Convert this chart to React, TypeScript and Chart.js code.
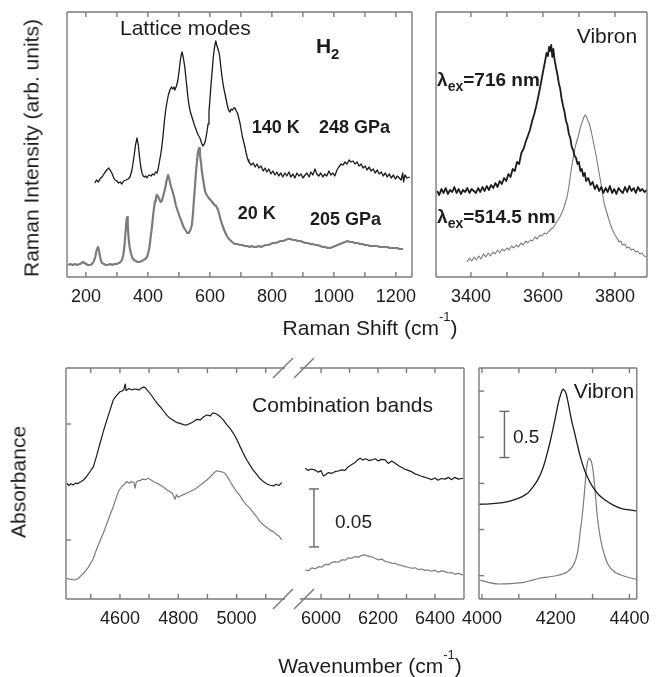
import React, { useEffect, useRef } from "react";
import { Chart, registerables } from "chart.js";

Chart.register(...registerables);

const W = 659;
const H = 677;
const AXIS_H = 40;
const FONT = '"Liberation Sans", Arial, Helvetica, sans-serif';
const INK = "#1c1c1c";
const GREY = "#7c7c7c";
const FRAME = "#7a7a7a";

type Pt = [number, number];

// ---------- Raman lattice modes: [shift cm^-1, intensity arb. units] ----------
const latticeHot140K: Pt[] = [
  [229, 94], [234, 97], [240, 95], [245, 98], [252, 100], [260, 104], [267, 107], [274, 109], [280, 106], [285, 103],
  [290, 99], [294, 97], [300, 96], [305, 94], [311, 95], [316, 93], [322, 96], [330, 97], [336, 98], [342, 100],
  [348, 106], [355, 120], [360, 132], [365, 139], [369, 132], [373, 120], [377, 110], [381, 104], [385, 101], [389, 100],
  [393, 101], [397, 99], [403, 102], [410, 101], [415, 103], [420, 102], [425, 105], [429, 104], [433, 108], [437, 115],
  [441, 122], [445, 130], [449, 142], [453, 155], [457, 166], [461, 174], [466, 182], [471, 187], [476, 190], [480, 188],
  [484, 190], [487, 187], [492, 191], [497, 197], [501, 207], [504, 215], [507, 221], [510, 225], [514, 220], [519, 210],
  [524, 195], [529, 180], [533, 171], [537, 165], [541, 161], [545, 157], [550, 152], [556, 147], [562, 142], [568, 139],
  [573, 134], [577, 131], [582, 133], [586, 137], [590, 144], [594, 153], [597, 165], [600, 177], [603, 190], [607, 205],
  [611, 220], [615, 230], [619, 236], [622, 232], [626, 228], [629, 225], [632, 220], [636, 208], [640, 198], [644, 190],
  [648, 184], [652, 178], [656, 172], [660, 167], [665, 165], [669, 168], [673, 167], [677, 169], [681, 169], [685, 166],
  [689, 164], [693, 159], [697, 154], [701, 147], [705, 140], [709, 135], [713, 130], [717, 124], [720, 120], [723, 117],
  [726, 115], [733, 112], [740, 114], [746, 110], [752, 113], [758, 109], [765, 111], [772, 106], [778, 109], [784, 105],
  [790, 108], [797, 103], [803, 106], [810, 102], [816, 105], [822, 101], [829, 104], [835, 100], [842, 104], [848, 101],
  [855, 105], [861, 100], [868, 103], [874, 99], [881, 104], [887, 101], [894, 103], [900, 99], [907, 102], [913, 104],
  [920, 100], [926, 105], [932, 102], [939, 108], [945, 103], [951, 101], [958, 104], [964, 100], [971, 103], [977, 101],
  [984, 106], [990, 102], [997, 104], [1003, 101], [1010, 107], [1016, 110], [1023, 113], [1029, 112], [1036, 115], [1042, 113],
  [1049, 117], [1055, 115], [1062, 116], [1068, 113], [1075, 115], [1081, 111], [1088, 113], [1094, 109], [1101, 111], [1107, 107],
  [1114, 110], [1120, 106], [1127, 108], [1133, 104], [1140, 107], [1146, 103], [1153, 105], [1159, 101], [1166, 104], [1172, 100],
  [1179, 103], [1185, 99], [1192, 102], [1198, 98], [1205, 101], [1211, 99], [1217, 97], [1222, 104], [1225, 95], [1229, 102],
  [1236, 99], [1245, 100],
];

const latticeCold20K: Pt[] = [
  [143, 12], [150, 13], [158, 12], [165, 13], [172, 12], [180, 13], [186, 14], [191, 15], [196, 14], [201, 13],
  [206, 12], [213, 12], [220, 13], [226, 16], [230, 20], [234, 26], [239, 30], [242, 27], [246, 20], [249, 16],
  [252, 14], [258, 13], [264, 12], [270, 12], [278, 13], [285, 12], [292, 13], [300, 13], [306, 14], [312, 15],
  [316, 17], [320, 21], [324, 30], [328, 45], [331, 57], [333, 60], [335, 52], [338, 38], [341, 30], [345, 24],
  [350, 19], [355, 17], [361, 16], [367, 15], [373, 15], [380, 16], [386, 17], [392, 18], [397, 20], [401, 24],
  [405, 30], [409, 40], [413, 50], [417, 62], [420, 70], [423, 76], [426, 80], [429, 82], [432, 81], [435, 79],
  [438, 77], [441, 75], [445, 76], [450, 82], [455, 88], [460, 96], [465, 102], [469, 98], [473, 92], [477, 88],
  [481, 84], [486, 78], [490, 72], [496, 66], [503, 60], [509, 55], [515, 50], [521, 47], [527, 44], [532, 44],
  [537, 47], [542, 52], [545, 62], [548, 75], [551, 87], [554, 100], [558, 115], [561, 124], [565, 129], [568, 122],
  [571, 115], [574, 106], [577, 100], [581, 92], [585, 85], [590, 82], [594, 80], [599, 78], [605, 76], [610, 74],
  [615, 72], [620, 71], [625, 68], [630, 63], [635, 57], [640, 52], [646, 47], [653, 42], [659, 39], [665, 37],
  [672, 35], [680, 33], [688, 33], [697, 32], [705, 32], [712, 31], [720, 31], [728, 30], [735, 31], [742, 30],
  [750, 30], [758, 31], [765, 30], [772, 31], [780, 32], [788, 32], [796, 33], [804, 34], [812, 34], [820, 35],
  [828, 36], [836, 36], [844, 37], [852, 38], [860, 38], [868, 37], [876, 37], [884, 36], [892, 36], [900, 35],
  [908, 34], [916, 34], [924, 33], [932, 33], [940, 32], [948, 32], [956, 31], [964, 30], [972, 30], [980, 29],
  [988, 29], [996, 30], [1004, 31], [1012, 32], [1020, 33], [1028, 34], [1036, 35], [1044, 36], [1052, 35], [1060, 35],
  [1068, 34], [1076, 34], [1084, 33], [1092, 33], [1100, 32], [1108, 32], [1116, 31], [1124, 31], [1132, 31], [1140, 31],
  [1148, 30], [1156, 30], [1164, 30], [1172, 30], [1180, 29], [1188, 29], [1196, 29], [1204, 29], [1212, 28], [1223, 28],
];

// ---------- Raman vibron ----------
const vibron716nm: Pt[] = [
  [3306, 86], [3312, 82], [3318, 88], [3324, 84], [3330, 89], [3336, 83], [3342, 87], [3348, 85], [3354, 90], [3360, 84],
  [3366, 88], [3372, 83], [3378, 87], [3384, 85], [3390, 89], [3396, 84], [3402, 88], [3408, 86], [3414, 84], [3420, 89],
  [3426, 85], [3432, 90], [3438, 86], [3444, 91], [3450, 87], [3456, 92], [3462, 89], [3468, 94], [3474, 90], [3480, 96],
  [3486, 93], [3492, 99], [3498, 96], [3504, 103], [3510, 100], [3516, 108], [3522, 106], [3528, 115], [3534, 113], [3540, 124],
  [3546, 128], [3552, 135], [3558, 141], [3564, 147], [3570, 156], [3576, 163], [3582, 172], [3588, 182], [3594, 193], [3600, 205],
  [3605, 214], [3610, 224], [3614, 221], [3617, 230], [3620, 226], [3623, 232], [3626, 220], [3629, 228], [3632, 218], [3636, 210],
  [3640, 203], [3644, 194], [3648, 188], [3652, 178], [3656, 171], [3660, 165], [3664, 156], [3668, 152], [3672, 143], [3676, 139],
  [3680, 130], [3684, 127], [3688, 121], [3692, 119], [3696, 113], [3700, 115], [3704, 106], [3708, 108], [3712, 101], [3716, 104],
  [3720, 96], [3726, 99], [3732, 92], [3738, 95], [3744, 88], [3750, 92], [3756, 86], [3762, 90], [3768, 84], [3774, 89],
  [3780, 85], [3786, 91], [3792, 84], [3798, 88], [3804, 83], [3810, 89], [3816, 86], [3822, 84], [3828, 90], [3834, 85],
  [3840, 91], [3846, 86], [3852, 89], [3858, 84], [3864, 90], [3870, 86], [3876, 88], [3882, 85], [3889, 87],
];

const vibron514nm: Pt[] = [
  [3389, 15], [3396, 19], [3402, 16], [3409, 20], [3415, 17], [3422, 21], [3428, 18], [3435, 23], [3441, 20], [3448, 24],
  [3454, 21], [3461, 25], [3467, 23], [3474, 27], [3480, 24], [3487, 28], [3493, 26], [3500, 29], [3506, 27], [3513, 31],
  [3519, 29], [3526, 32], [3532, 30], [3539, 34], [3545, 32], [3552, 36], [3558, 34], [3565, 37], [3571, 36], [3578, 40],
  [3584, 38], [3591, 42], [3597, 41], [3604, 44], [3610, 43], [3617, 46], [3623, 48], [3630, 50], [3636, 54], [3642, 57],
  [3647, 60], [3652, 64], [3657, 68], [3662, 74], [3667, 80], [3671, 88], [3675, 98], [3679, 108], [3683, 117], [3687, 125],
  [3691, 132], [3695, 137], [3699, 142], [3703, 148], [3707, 153], [3711, 157], [3715, 161], [3718, 162], [3721, 160], [3724, 157],
  [3728, 154], [3731, 150], [3735, 144], [3740, 135], [3745, 126], [3750, 117], [3754, 108], [3758, 100], [3763, 90], [3767, 80],
  [3771, 72], [3776, 66], [3781, 60], [3786, 54], [3791, 49], [3796, 45], [3800, 42], [3806, 39], [3811, 35], [3816, 36],
  [3821, 32], [3827, 33], [3833, 29], [3839, 30], [3845, 27], [3851, 28], [3857, 25], [3863, 26], [3869, 23], [3875, 24],
  [3881, 21], [3889, 20],
];

// ---------- IR combination bands: [wavenumber, absorbance] ----------
const combUpperLow: Pt[] = [
  [4418, 0.1489], [4425, 0.147], [4432, 0.1485], [4440, 0.1474], [4448, 0.149], [4456, 0.1486], [4464, 0.15], [4475, 0.1517],
  [4485, 0.1545], [4495, 0.158], [4509, 0.1632], [4520, 0.1725], [4532, 0.1836], [4543, 0.1935], [4555, 0.2034], [4566, 0.212],
  [4577, 0.2207], [4588, 0.2245], [4600, 0.2278], [4608, 0.2285], [4614, 0.23], [4618, 0.2345], [4621, 0.229], [4630, 0.2305],
  [4640, 0.2295], [4650, 0.2302], [4658, 0.2299], [4666, 0.2295], [4674, 0.231], [4680, 0.2318], [4686, 0.2316], [4692, 0.2296],
  [4703, 0.2265], [4715, 0.2222], [4727, 0.218], [4738, 0.2149], [4750, 0.211], [4761, 0.2075], [4772, 0.2049], [4784, 0.203],
  [4795, 0.2012], [4806, 0.2006], [4818, 0.1995], [4829, 0.1991], [4840, 0.2005], [4852, 0.202], [4864, 0.204], [4875, 0.2035],
  [4887, 0.2062], [4898, 0.2078], [4910, 0.207], [4918, 0.2095], [4926, 0.2092], [4935, 0.208], [4945, 0.206], [4955, 0.2034],
  [4966, 0.1995], [4978, 0.196], [4989, 0.192], [5000, 0.187], [5012, 0.1805], [5023, 0.1747], [5035, 0.169], [5046, 0.1645],
  [5057, 0.1603], [5069, 0.1565], [5080, 0.153], [5092, 0.1503], [5103, 0.1485], [5115, 0.1472], [5126, 0.1466], [5135, 0.148],
  [5145, 0.147], [5155, 0.1494],
];
const combLowerLow: Pt[] = [
  [4418, 0.067], [4426, 0.0662], [4434, 0.066], [4446, 0.0655], [4458, 0.067], [4466, 0.069], [4475, 0.0713], [4490, 0.076],
  [4500, 0.08], [4509, 0.0842], [4520, 0.092], [4532, 0.0995], [4543, 0.1058], [4555, 0.114], [4566, 0.1215], [4577, 0.1287],
  [4588, 0.137], [4597, 0.143], [4606, 0.1459], [4615, 0.148], [4623, 0.1503], [4632, 0.149], [4640, 0.1505], [4648, 0.1495],
  [4652, 0.1446], [4656, 0.15], [4662, 0.151], [4669, 0.1511], [4677, 0.1525], [4687, 0.152], [4697, 0.1532], [4708, 0.1515],
  [4718, 0.15], [4728, 0.1488], [4738, 0.1474], [4750, 0.1455], [4761, 0.1432], [4772, 0.1416], [4780, 0.14], [4789, 0.1351],
  [4794, 0.139], [4800, 0.1368], [4812, 0.1385], [4826, 0.14], [4840, 0.1418], [4852, 0.1431], [4864, 0.145], [4876, 0.1475],
  [4887, 0.1495], [4898, 0.1517], [4910, 0.1545], [4921, 0.1575], [4932, 0.1597], [4940, 0.1592], [4950, 0.1588], [4960, 0.1575],
  [4970, 0.154], [4980, 0.1495], [4990, 0.1455], [5000, 0.1416], [5012, 0.138], [5023, 0.1335], [5035, 0.13], [5046, 0.1273],
  [5057, 0.1235], [5069, 0.12], [5080, 0.116], [5092, 0.1129], [5103, 0.111], [5115, 0.1085], [5126, 0.1072], [5136, 0.105],
  [5145, 0.1035], [5155, 0.1],
];
const combUpperHigh: Pt[] = [
  [5944, 0.1618], [5955, 0.16], [5965, 0.1612], [5979, 0.1603], [5990, 0.1585], [6000, 0.1598], [6008, 0.1552], [6014, 0.156],
  [6025, 0.158], [6037, 0.1575], [6049, 0.1589], [6060, 0.1595], [6072, 0.1605], [6084, 0.16], [6096, 0.1632], [6108, 0.165],
  [6118, 0.1665], [6128, 0.169], [6137, 0.1704], [6147, 0.169], [6157, 0.17], [6168, 0.1685], [6178, 0.169], [6190, 0.17],
  [6201, 0.1682], [6212, 0.1695], [6225, 0.169], [6236, 0.166], [6248, 0.168], [6260, 0.1661], [6272, 0.164], [6284, 0.1625],
  [6295, 0.161], [6306, 0.16], [6318, 0.1589], [6330, 0.157], [6342, 0.156], [6353, 0.155], [6365, 0.154], [6376, 0.1532],
  [6388, 0.152], [6400, 0.1535], [6411, 0.1515], [6423, 0.153], [6435, 0.1525], [6447, 0.154], [6458, 0.152], [6470, 0.154],
  [6482, 0.1525], [6499, 0.1532],
];
const combLowerHigh: Pt[] = [
  [5944, 0.0741], [5956, 0.0735], [5968, 0.076], [5980, 0.0752], [5991, 0.077], [6003, 0.0765], [6014, 0.079], [6026, 0.0785],
  [6037, 0.0805], [6049, 0.0813], [6061, 0.0808], [6073, 0.083], [6084, 0.0825], [6096, 0.0845], [6108, 0.0842], [6120, 0.0858],
  [6131, 0.085], [6143, 0.0868], [6154, 0.0871], [6166, 0.086], [6178, 0.0855], [6190, 0.084], [6201, 0.0828], [6213, 0.0835],
  [6225, 0.0815], [6236, 0.081], [6248, 0.08], [6260, 0.0799], [6272, 0.0785], [6284, 0.078], [6295, 0.077], [6306, 0.0765],
  [6318, 0.0756], [6330, 0.076], [6342, 0.0745], [6353, 0.075], [6365, 0.0738], [6376, 0.0741], [6388, 0.073], [6400, 0.074],
  [6411, 0.0722], [6423, 0.0733], [6435, 0.0727], [6447, 0.0715], [6458, 0.072], [6470, 0.0705], [6482, 0.0712], [6499, 0.0698],
];

// ---------- IR vibron ----------
const irVibronUpper: Pt[] = [
  [3993, 1.274], [4020, 1.278], [4037, 1.284], [4060, 1.295], [4080, 1.313], [4100, 1.34], [4114, 1.367], [4127, 1.405],
  [4139, 1.464], [4150, 1.53], [4160, 1.609], [4169, 1.71], [4177, 1.826], [4186, 1.97], [4194, 2.114], [4201, 2.25],
  [4207, 2.368], [4214, 2.47], [4220, 2.52], [4224, 2.505], [4228, 2.476], [4234, 2.37], [4241, 2.223], [4245, 2.15],
  [4250, 2.07], [4258, 1.934], [4266, 1.8], [4275, 1.681], [4287, 1.56], [4300, 1.464], [4316, 1.38], [4334, 1.32],
  [4355, 1.268], [4377, 1.23], [4400, 1.212], [4419, 1.201],
];
const irVibronLower: Pt[] = [
  [3993, 0.453], [4020, 0.425], [4046, 0.41], [4080, 0.415], [4114, 0.428], [4135, 0.45], [4156, 0.472], [4178, 0.485],
  [4198, 0.497], [4216, 0.515], [4232, 0.543], [4244, 0.59], [4254, 0.67], [4261, 0.79], [4266, 0.959], [4272, 1.15],
  [4277, 1.356], [4280, 1.5], [4283, 1.645], [4287, 1.74], [4290, 1.772], [4294, 1.76], [4298, 1.718], [4302, 1.62],
  [4305, 1.501], [4309, 1.32], [4313, 1.139], [4319, 0.96], [4326, 0.814], [4334, 0.7], [4343, 0.616], [4358, 0.545],
  [4377, 0.508], [4398, 0.48], [4419, 0.461],
];

// ---------- tick values ----------
const latticeTickLabels = [200, 400, 600, 800, 1000, 1200];
const latticeTickMarks = [200, 300, 400, 500, 600, 700, 800, 900, 1000, 1100, 1200];
const vibronTickLabels = [3400, 3600, 3800];
const vibronTickMarks = [3400, 3500, 3600, 3700, 3800];
const combLowTickLabels = [4600, 4800, 5000];
const combLowTickMarks = [4500, 4600, 4700, 4800, 4900, 5000, 5100];
const combHighTickLabels = [6000, 6200, 6400];
const combHighTickMarks = [6000, 6100, 6200, 6300, 6400];
const combAbsTicks = [0.1, 0.2];
const irVibronTickLabels = [4000, 4200, 4400];
const irVibronTickMarks = [4000, 4100, 4200, 4300, 4400];
const irVibronAbsTicks = [0.5, 1.0, 1.5, 2.0, 2.5];

type Part = { t: string; size: number; bold?: boolean; dy?: number };
type Label = { x: number; y: number; parts: Part[] };
type Series = { pts: Pt[]; color: string; width: number; smooth?: boolean };
type Side = "left" | "top" | "right" | "bottom";
type PanelCfg = {
  area: [number, number, number, number];
  xMin: number; xMax: number; yMin: number; yMax: number;
  series: Series[];
  xLabels: number[]; xMarks: number[]; yMarks: number[];
  sides: Side[];
  labels: Label[];
  bars?: { x: number; y0: number; y1: number }[];
  breaks?: number[];
};

const lam = (rest: string): Part[] => [
  { t: "λ", size: 19, bold: true },
  { t: "ex", size: 14, bold: true, dy: 5 },
  { t: rest, size: 19, bold: true },
];

const panels: PanelCfg[] = [
  {
    area: [67, 12, 412, 277], xMin: 139, xMax: 1252, yMin: 0, yMax: 265,
    series: [
      { pts: latticeHot140K, color: INK, width: 1.3 },
      { pts: latticeCold20K, color: GREY, width: 2.2 },
    ],
    xLabels: latticeTickLabels, xMarks: latticeTickMarks, yMarks: [],
    sides: ["left", "top", "right", "bottom"],
    labels: [
      { x: 310, y: 242, parts: [{ t: "Lattice modes", size: 21 }] },
      { x: 942, y: 224, parts: [{ t: "H", size: 21, bold: true }, { t: "2", size: 15, bold: true, dy: 6 }] },
      { x: 735, y: 144, parts: [{ t: "140 K", size: 18, bold: true }] },
      { x: 952, y: 144, parts: [{ t: "248 GPa", size: 18, bold: true }] },
      { x: 690, y: 58, parts: [{ t: "20 K", size: 18, bold: true }] },
      { x: 923, y: 52, parts: [{ t: "205 GPa", size: 18, bold: true }] },
    ],
  },
  {
    area: [436, 12, 647, 277], xMin: 3303, xMax: 3889, yMin: 0, yMax: 265,
    series: [
      { pts: vibron716nm, color: INK, width: 1.8 },
      { pts: vibron514nm, color: GREY, width: 1.1 },
    ],
    xLabels: vibronTickLabels, xMarks: vibronTickMarks, yMarks: [],
    sides: ["left", "top", "right", "bottom"],
    labels: [
      { x: 3694, y: 234, parts: [{ t: "Vibron", size: 21 }] },
      { x: 3306, y: 191, parts: lam("=716 nm") },
      { x: 3306, y: 54, parts: lam("=514.5 nm") },
    ],
  },
  {
    area: [66, 368, 285, 599], xMin: 4415, xMax: 5166, yMin: 0.0491, yMax: 0.2483,
    series: [
      { pts: combUpperLow, color: INK, width: 1.2 },
      { pts: combLowerLow, color: GREY, width: 1.2 },
    ],
    xLabels: combLowTickLabels, xMarks: combLowTickMarks, yMarks: combAbsTicks,
    sides: ["left", "top", "bottom"],
    labels: [{ x: 5053, y: 0.2106, parts: [{ t: "Combination bands", size: 21 }] }],
  },
  {
    area: [300, 368, 464, 599], xMin: 5926, xMax: 6502, yMin: 0.0491, yMax: 0.2483,
    series: [
      { pts: combUpperHigh, color: INK, width: 1.2 },
      { pts: combLowerHigh, color: GREY, width: 1.2 },
    ],
    xLabels: combHighTickLabels, xMarks: combHighTickMarks, yMarks: [],
    sides: ["top", "right", "bottom"],
    labels: [{ x: 6049, y: 0.1103, parts: [{ t: "0.05", size: 19 }] }],
    bars: [{ x: 5975, y0: 0.094, y1: 0.144 }],
    breaks: [-17, 4],
  },
  {
    area: [479, 368, 647, 599], xMin: 3992, xMax: 4420, yMin: 0.2476, yMax: 2.75,
    series: [
      { pts: irVibronUpper, color: INK, width: 1.3, smooth: true },
      { pts: irVibronLower, color: GREY, width: 1.2, smooth: true },
    ],
    xLabels: irVibronTickLabels, xMarks: irVibronTickMarks, yMarks: irVibronAbsTicks,
    sides: ["left", "top", "right", "bottom"],
    labels: [
      { x: 4249, y: 2.425, parts: [{ t: "Vibron", size: 21 }] },
      { x: 4084, y: 1.941, parts: [{ t: "0.5", size: 19 }] },
    ],
    bars: [{ x: 4061, y0: 1.78, y1: 2.28 }],
  },
];

function makeFrame(cfg: PanelCfg) {
  return {
    id: "frame",
    afterDraw(chart: any) {
      const { ctx, chartArea: a, scales } = chart;
      const xs = scales.x;
      const ys = scales.y;
      ctx.save();
      ctx.strokeStyle = FRAME;
      ctx.lineWidth = 1.4;
      const seg = (x1: number, y1: number, x2: number, y2: number) => {
        ctx.beginPath();
        ctx.moveTo(x1, y1);
        ctx.lineTo(x2, y2);
        ctx.stroke();
      };
      const s = cfg.sides;
      if (s.includes("left")) seg(a.left, a.top, a.left, a.bottom);
      if (s.includes("right")) seg(a.right, a.top, a.right, a.bottom);
      if (s.includes("top")) seg(a.left, a.top, a.right, a.top);
      if (s.includes("bottom")) seg(a.left, a.bottom, a.right, a.bottom);
      const TL = 5;
      for (const v of cfg.xMarks) {
        const px = xs.getPixelForValue(v);
        seg(px, a.bottom, px, a.bottom - TL);
        seg(px, a.top, px, a.top + TL);
      }
      for (const v of cfg.yMarks) {
        const py = ys.getPixelForValue(v);
        seg(a.left, py, a.left + TL, py);
      }
      for (const c of cfg.breaks ?? []) {
        for (const yy of [a.top, a.bottom]) {
          seg(a.left + c - 10, yy + 10, a.left + c + 10, yy - 10);
        }
      }
      ctx.strokeStyle = "#666";
      for (const b of cfg.bars ?? []) {
        const px = xs.getPixelForValue(b.x);
        const p0 = ys.getPixelForValue(b.y0);
        const p1 = ys.getPixelForValue(b.y1);
        seg(px, p0, px, p1);
        seg(px - 5, p0, px + 5, p0);
        seg(px - 5, p1, px + 5, p1);
      }
      ctx.fillStyle = INK;
      ctx.textBaseline = "alphabetic";
      ctx.textAlign = "left";
      for (const l of cfg.labels) {
        let cx = xs.getPixelForValue(l.x);
        const cy = ys.getPixelForValue(l.y);
        for (const p of l.parts) {
          ctx.font = `${p.bold ? "bold " : ""}${p.size}px ${FONT}`;
          ctx.fillText(p.t, cx, cy + (p.dy ?? 0));
          cx += ctx.measureText(p.t).width;
        }
      }
      ctx.restore();
    },
  };
}

function Panel({ cfg }: { cfg: PanelCfg }) {
  const ref = useRef<HTMLCanvasElement | null>(null);
  useEffect(() => {
    if (!ref.current) return;
    const [l, t, r, b] = cfg.area;
    const chart = new Chart(ref.current, {
      type: "line",
      data: {
        datasets: cfg.series.map((s) => ({
          data: s.pts.map(([x, y]) => ({ x, y })),
          borderColor: s.color,
          borderWidth: s.width,
          pointRadius: 0,
          fill: false,
          tension: 0,
          borderJoinStyle: "round",
          cubicInterpolationMode: s.smooth ? "monotone" : "default",
        })),
      },
      options: {
        animation: false,
        responsive: false,
        events: [],
        layout: { padding: { left: l, top: t, right: W - r, bottom: H - b - AXIS_H } },
        scales: {
          x: {
            type: "linear",
            min: cfg.xMin,
            max: cfg.xMax,
            grid: { display: false, drawTicks: false },
            border: { display: false },
            afterBuildTicks: (ax: any) => {
              ax.ticks = cfg.xLabels.map((v) => ({ value: v }));
            },
            afterFit: (ax: any) => {
              ax.height = AXIS_H;
            },
            ticks: {
              autoSkip: false,
              maxRotation: 0,
              padding: 9,
              color: INK,
              font: { family: FONT, size: 18 },
              callback: (v: any) => String(v),
            },
          },
          y: { type: "linear", min: cfg.yMin, max: cfg.yMax, display: false },
        },
        plugins: { legend: { display: false }, tooltip: { enabled: false } },
      } as any,
      plugins: [makeFrame(cfg)],
    });
    return () => chart.destroy();
  }, [cfg]);
  return (
    <canvas
      ref={ref}
      width={W}
      height={H}
      style={{ position: "absolute", left: 0, top: 0, width: W, height: H }}
    />
  );
}

const titleStyle: React.CSSProperties = {
  position: "absolute",
  fontFamily: FONT,
  fontSize: 21,
  lineHeight: "21px",
  whiteSpace: "nowrap",
  color: INK,
};
const supStyle: React.CSSProperties = { fontSize: 13, verticalAlign: "14px", lineHeight: 0 };

export default function App() {
  return (
    <div style={{ position: "absolute", left: 0, top: 0, width: W, height: H, background: "#fff", overflow: "hidden" }}>
      {panels.map((p, i) => (
        <Panel key={i} cfg={p} />
      ))}
      <div style={{ ...titleStyle, left: 31, top: 148, transform: "translate(-50%, -50%) rotate(-90deg)" }}>
        Raman Intensity (arb. units)
      </div>
      <div style={{ ...titleStyle, left: 18, top: 482, transform: "translate(-50%, -50%) rotate(-90deg)" }}>
        Absorbance
      </div>
      <div style={{ ...titleStyle, left: 370, top: 317, transform: "translateX(-50%)" }}>
        Raman Shift (cm<span style={supStyle}>-1</span>)
      </div>
      <div style={{ ...titleStyle, left: 370, top: 655, transform: "translateX(-50%)" }}>
        Wavenumber (cm<span style={supStyle}>-1</span>)
      </div>
    </div>
  );
}
